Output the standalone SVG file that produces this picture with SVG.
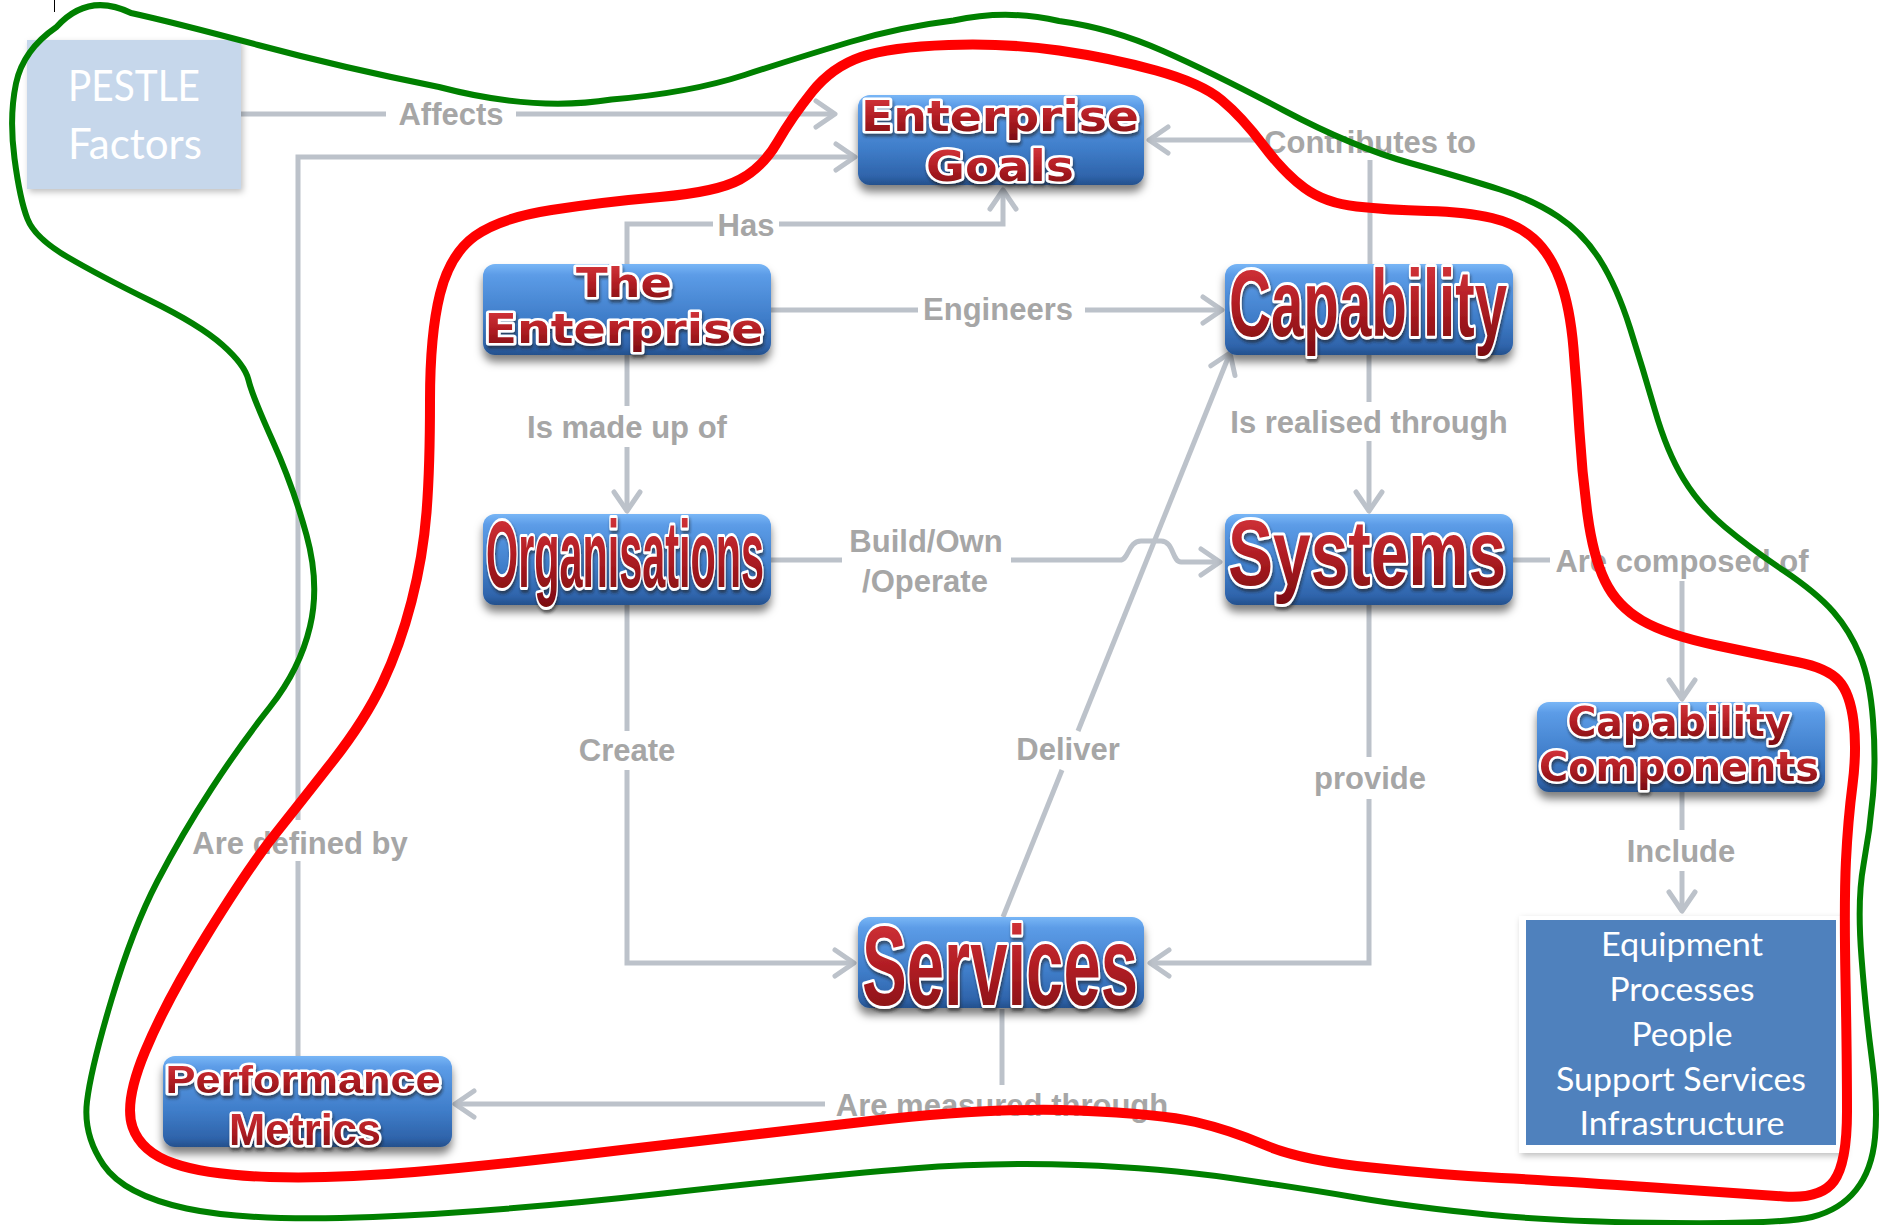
<svg xmlns="http://www.w3.org/2000/svg" width="1884" height="1225" viewBox="0 0 1884 1225">
<defs>
<style>
.lbl{font-family:"Liberation Sans",Arial,sans-serif;font-weight:bold;font-size:31px;fill:#a6a6a6;text-anchor:middle}
.conn{fill:none;stroke:#bcc2ca;stroke-width:5}
.arr{marker-end:url(#arrow)}
.box{fill:url(#nodeGrad);filter:url(#boxShadow)}
.nt{font-weight:bold;fill:url(#redGrad);stroke:#ffffff;stroke-width:5;paint-order:stroke;stroke-linejoin:round;text-anchor:middle;filter:url(#txtShadow)}
.big{stroke-width:6}
.wide{font-family:"DejaVu Sans",sans-serif}
.narrow{font-family:"Liberation Sans",Arial,sans-serif}
.plain{font-family:Lato,"Open Sans",sans-serif;fill:#ffffff;text-anchor:middle}
.green{fill:none;stroke:#008000;stroke-width:6;stroke-linejoin:round}
.red{fill:none;stroke:#ff0000;stroke-width:10;stroke-linejoin:round}
</style>
<linearGradient id="nodeGrad" x1="0" y1="0" x2="0" y2="1">
<stop offset="0" stop-color="#78b6f6"/>
<stop offset="0.12" stop-color="#5c9ce7"/>
<stop offset="0.6" stop-color="#3f7dc9"/>
<stop offset="0.9" stop-color="#2f64ab"/>
<stop offset="1" stop-color="#24508c"/>
</linearGradient>
<linearGradient id="redGrad" x1="0" y1="0" x2="0" y2="1">
<stop offset="0" stop-color="#dc3a40"/>
<stop offset="0.5" stop-color="#b21e24"/>
<stop offset="1" stop-color="#7a0c10"/>
</linearGradient>
<filter id="boxShadow" x="-10%" y="-20%" width="120%" height="160%">
<feDropShadow dx="0" dy="7" stdDeviation="4" flood-color="#000000" flood-opacity="0.5"/>
</filter>
<filter id="txtShadow" x="-5%" y="-20%" width="110%" height="150%">
<feDropShadow dx="1" dy="3" stdDeviation="1.5" flood-color="#1a1a1a" flood-opacity="0.6"/>
</filter>
<filter id="softShadow" x="-10%" y="-10%" width="125%" height="125%">
<feDropShadow dx="2" dy="3" stdDeviation="3" flood-color="#000000" flood-opacity="0.25"/>
</filter>
<marker id="arrow" markerUnits="userSpaceOnUse" markerWidth="30" markerHeight="34" viewBox="-26 -17 30 34" refX="0" refY="0" orient="auto">
<path d="M-19,-13 L0,0 L-19,13" fill="none" stroke="#bcc2ca" stroke-width="5" stroke-linecap="round" stroke-linejoin="round"/>
</marker>
</defs>
<rect x="0" y="0" width="1884" height="1225" fill="#ffffff"/>
<line x1="54.5" y1="0" x2="54.5" y2="12" stroke="#000000" stroke-width="1"/>

<g id="connectors">
<!-- Affects -->
<path class="conn" d="M241,114 L386,114"/>
<path class="conn arr" d="M516,114 L835,114"/>
<text class="lbl" x="451" y="125">Affects</text>
<!-- Are defined by -->
<path class="conn" d="M298,1056 L298,861"/>
<path class="conn arr" d="M298,820 L298,157 L855,157"/>
<text class="lbl" x="300" y="854">Are defined by</text>
<!-- Has -->
<path class="conn" d="M627,264 L627,224 L713,224"/>
<path class="conn arr" d="M779,224 L1003,224 L1003,190"/>
<text class="lbl" x="746" y="236">Has</text>
<!-- Contributes to -->
<path class="conn" d="M1370,264 L1370,160"/>
<path class="conn arr" d="M1258,140 L1149,140"/>
<text class="lbl" x="1370" y="153">Contributes to</text>
<!-- Engineers -->
<path class="conn" d="M771,310 L918,310"/>
<path class="conn arr" d="M1085,310 L1222,310"/>
<text class="lbl" x="998" y="320">Engineers</text>
<!-- Is made up of -->
<path class="conn" d="M627,355 L627,406"/>
<path class="conn arr" d="M627,447 L627,511"/>
<text class="lbl" x="627" y="438">Is made up of</text>
<!-- Is realised through -->
<path class="conn" d="M1369,355 L1369,402"/>
<path class="conn arr" d="M1369,441 L1369,511"/>
<text class="lbl" x="1369" y="433">Is realised through</text>
<!-- Build/Own /Operate -->
<path class="conn" d="M771,560 L842,560"/>
<path class="conn arr" d="M1011,560 L1120,560 C1129,560 1128,541 1141,541 L1161,541 C1174,541 1172,562 1181,562 L1220,562"/>
<text class="lbl" x="926" y="552">Build/Own</text>
<text class="lbl" x="925" y="592">/Operate</text>
<!-- Are composed of -->
<path class="conn" d="M1512,560 L1550,560"/>
<path class="conn arr" d="M1682,581 L1682,699"/>
<text class="lbl" x="1682" y="572">Are composed of</text>
<!-- Create -->
<path class="conn" d="M627,605 L627,731"/>
<path class="conn arr" d="M627,770 L627,963 L854,963"/>
<text class="lbl" x="627" y="761">Create</text>
<!-- Deliver -->
<path class="conn" d="M1003,917 L1062,770"/>
<path class="conn arr" d="M1078,731 L1230,353"/>
<text class="lbl" x="1068" y="760">Deliver</text>
<!-- provide -->
<path class="conn" d="M1369,605 L1369,757"/>
<path class="conn arr" d="M1369,799 L1369,963 L1150,963"/>
<text class="lbl" x="1370" y="789">provide</text>
<!-- Include -->
<path class="conn" d="M1682,792 L1682,830"/>
<path class="conn arr" d="M1682,871 L1682,911"/>
<text class="lbl" x="1681" y="862">Include</text>
<!-- Are measured through -->
<path class="conn" d="M1002,1009 L1002,1085"/>
<path class="conn arr" d="M825,1104 L455,1104"/>
<text class="lbl" x="1002" y="1116">Are measured through</text>
</g>

<g id="pestle-factors">
<rect x="27" y="40" width="214" height="149" fill="#c6d7eb" filter="url(#softShadow)"/>
<text class="plain" x="134" y="101" font-size="42" textLength="132" lengthAdjust="spacingAndGlyphs">PESTLE</text>
<text class="plain" x="135" y="159" font-size="42" textLength="134" lengthAdjust="spacingAndGlyphs">Factors</text>
</g>

<g id="enterprise-goals">
<rect class="box" x="858" y="95" width="286" height="90" rx="12"/>
<text class="nt wide" x="1000" y="131" font-size="42" textLength="278" lengthAdjust="spacingAndGlyphs">Enterprise</text>
<text class="nt wide" x="1000" y="181" font-size="42" textLength="148" lengthAdjust="spacingAndGlyphs">Goals</text>
</g>

<g id="the-enterprise">
<rect class="box" x="483" y="264" width="288" height="91" rx="12"/>
<text class="nt wide" x="624" y="297" font-size="41" textLength="96" lengthAdjust="spacingAndGlyphs">The</text>
<text class="nt wide" x="624" y="343" font-size="41" textLength="279" lengthAdjust="spacingAndGlyphs">Enterprise</text>
</g>

<g id="capability">
<rect class="box" x="1225" y="264" width="288" height="91" rx="12"/>
<text class="nt narrow big" x="1368" y="336" font-size="94" textLength="278" lengthAdjust="spacingAndGlyphs">Capability</text>
</g>

<g id="organisations">
<rect class="box" x="483" y="514" width="288" height="91" rx="12"/>
<text class="nt narrow big" x="625" y="587" font-size="95" textLength="278" lengthAdjust="spacingAndGlyphs">Organisations</text>
</g>

<g id="systems">
<rect class="box" x="1225" y="514" width="288" height="91" rx="12"/>
<text class="nt narrow big" x="1367" y="585" font-size="93" textLength="278" lengthAdjust="spacingAndGlyphs">Systems</text>
</g>

<g id="services">
<rect class="box" x="858" y="917" width="286" height="91" rx="12"/>
<text class="nt narrow big" x="1000" y="1005" font-size="114" textLength="276" lengthAdjust="spacingAndGlyphs">Services</text>
</g>

<g id="performance-metrics">
<rect class="box" x="163" y="1056" width="289" height="91" rx="12"/>
<text class="nt narrow" x="303" y="1093" font-size="38" textLength="275" lengthAdjust="spacingAndGlyphs">Performance</text>
<text class="nt narrow" x="305" y="1145" font-size="45" textLength="152" lengthAdjust="spacingAndGlyphs">Metrics</text>
</g>

<g id="capability-components">
<rect class="box" x="1537" y="702" width="288" height="90" rx="12"/>
<text class="nt wide" x="1679" y="736" font-size="40" textLength="223" lengthAdjust="spacingAndGlyphs">Capability</text>
<text class="nt wide" x="1679" y="781" font-size="40" textLength="280" lengthAdjust="spacingAndGlyphs">Components</text>
</g>

<g id="components-list">
<rect x="1519" y="916" width="325" height="237" fill="#ffffff" filter="url(#softShadow)"/>
<rect x="1526" y="920" width="310" height="225" fill="#4f81bd"/>
<text class="plain" x="1682" y="956" font-size="33" textLength="162" lengthAdjust="spacingAndGlyphs">Equipment</text>
<text class="plain" x="1682" y="1001" font-size="33" textLength="145" lengthAdjust="spacingAndGlyphs">Processes</text>
<text class="plain" x="1682" y="1046" font-size="33" textLength="101" lengthAdjust="spacingAndGlyphs">People</text>
<text class="plain" x="1681" y="1091" font-size="33" textLength="250" lengthAdjust="spacingAndGlyphs">Support Services</text>
<text class="plain" x="1682" y="1135" font-size="33" textLength="205" lengthAdjust="spacingAndGlyphs">Infrastructure</text>
</g>

<g id="outlines">
<path class="green" d="M56.5,27 Q88,-8 131,13 Q172,22 258,45 Q344,68 439,87 Q534,112 611.5,99.5 Q689,93 744.5,75 Q800,57 850,42 Q900,27 953.5,20.5 Q1007,9 1059,21 Q1111,28 1163,51 Q1215,74 1284,110.5 Q1353,147 1410,163 Q1467,179 1500,189.5 Q1533,200 1558,216.5 Q1583,233 1600,260 Q1617,287 1630,328 Q1643,369 1655,410.5 Q1667,452 1683.5,479 Q1700,506 1725,527 Q1750,548 1783.5,570.5 Q1817,593 1833.5,612 Q1850,631 1860,655.5 Q1870,680 1873,720 Q1876,760 1873,795 Q1870,830 1863.5,865 Q1857,900 1861.5,957.5 Q1866,1015 1872,1060 Q1878,1105 1875,1137.5 Q1872,1170 1856,1190 Q1840,1210 1812,1217 Q1784,1224 1672.5,1223 Q1561,1222 1486.5,1214.5 Q1412,1207 1356,1197.5 Q1300,1188 1230.5,1178 Q1161,1168 1078,1165 Q995,1162 912,1168.5 Q829,1175 663,1193.5 Q497,1212 373,1217 Q249,1222 186.5,1208.5 Q124,1195 103.5,1165 Q83,1135 87,1101.5 Q91,1068 112,998 Q133,928 157.5,881 Q182,834 211,789.5 Q240,745 270,707 Q300,669 310,626.5 Q320,584 306.5,535 Q293,486 272.5,440.5 Q252,395 248.5,380 Q245,365 222.5,345 Q200,325 150,300.5 Q100,276 67.5,257 Q35,238 27.5,219 Q20,200 14.5,158.5 Q9,117 16,83.5 Q23,50 56.5,27 Z"/>
<path class="red" d="M861,57 Q890,47 948.5,45 Q1007,43 1059,50.5 Q1111,58 1156,70.5 Q1201,83 1221.5,100 Q1242,117 1263,145 Q1284,173 1304.5,188 Q1325,203 1356.5,206.5 Q1388,210 1427.5,211 Q1467,212 1492,218 Q1517,224 1533.5,238.5 Q1550,253 1560,280 Q1570,307 1573.5,348.5 Q1577,390 1579.5,431.5 Q1582,473 1587.5,514.5 Q1593,556 1605,581 Q1617,606 1642,620.5 Q1667,635 1717,645.5 Q1767,656 1797,662 Q1827,668 1838.5,680.5 Q1850,693 1853.5,721.5 Q1857,750 1852.5,785 Q1848,820 1846,860 Q1844,900 1845.5,980 Q1847,1060 1847,1111.5 Q1847,1163 1834,1181 Q1821,1199 1784,1196.5 Q1747,1194 1654,1187.5 Q1561,1181 1501.5,1178 Q1442,1175 1371,1167.5 Q1300,1160 1265,1145 Q1230,1130 1195.5,1122 Q1161,1114 1078,1110.5 Q995,1107 870.5,1121 Q746,1135 621.5,1150 Q497,1165 414.5,1172 Q332,1179 269.5,1177 Q207,1175 174,1163.5 Q141,1152 132.5,1127 Q124,1102 145,1051.5 Q166,1001 207.5,934 Q249,867 274.5,835 Q300,803 332.5,761.5 Q365,720 382.5,683 Q400,646 411.5,601.5 Q423,557 426.5,512.5 Q430,468 430,401 Q430,334 440,294 Q450,254 475,236 Q500,218 551.5,210 Q603,202 660,197 Q717,192 740,179.5 Q763,167 777.5,142 Q792,117 812,92 Q832,67 861,57 Z"/>
</g>
</svg>
